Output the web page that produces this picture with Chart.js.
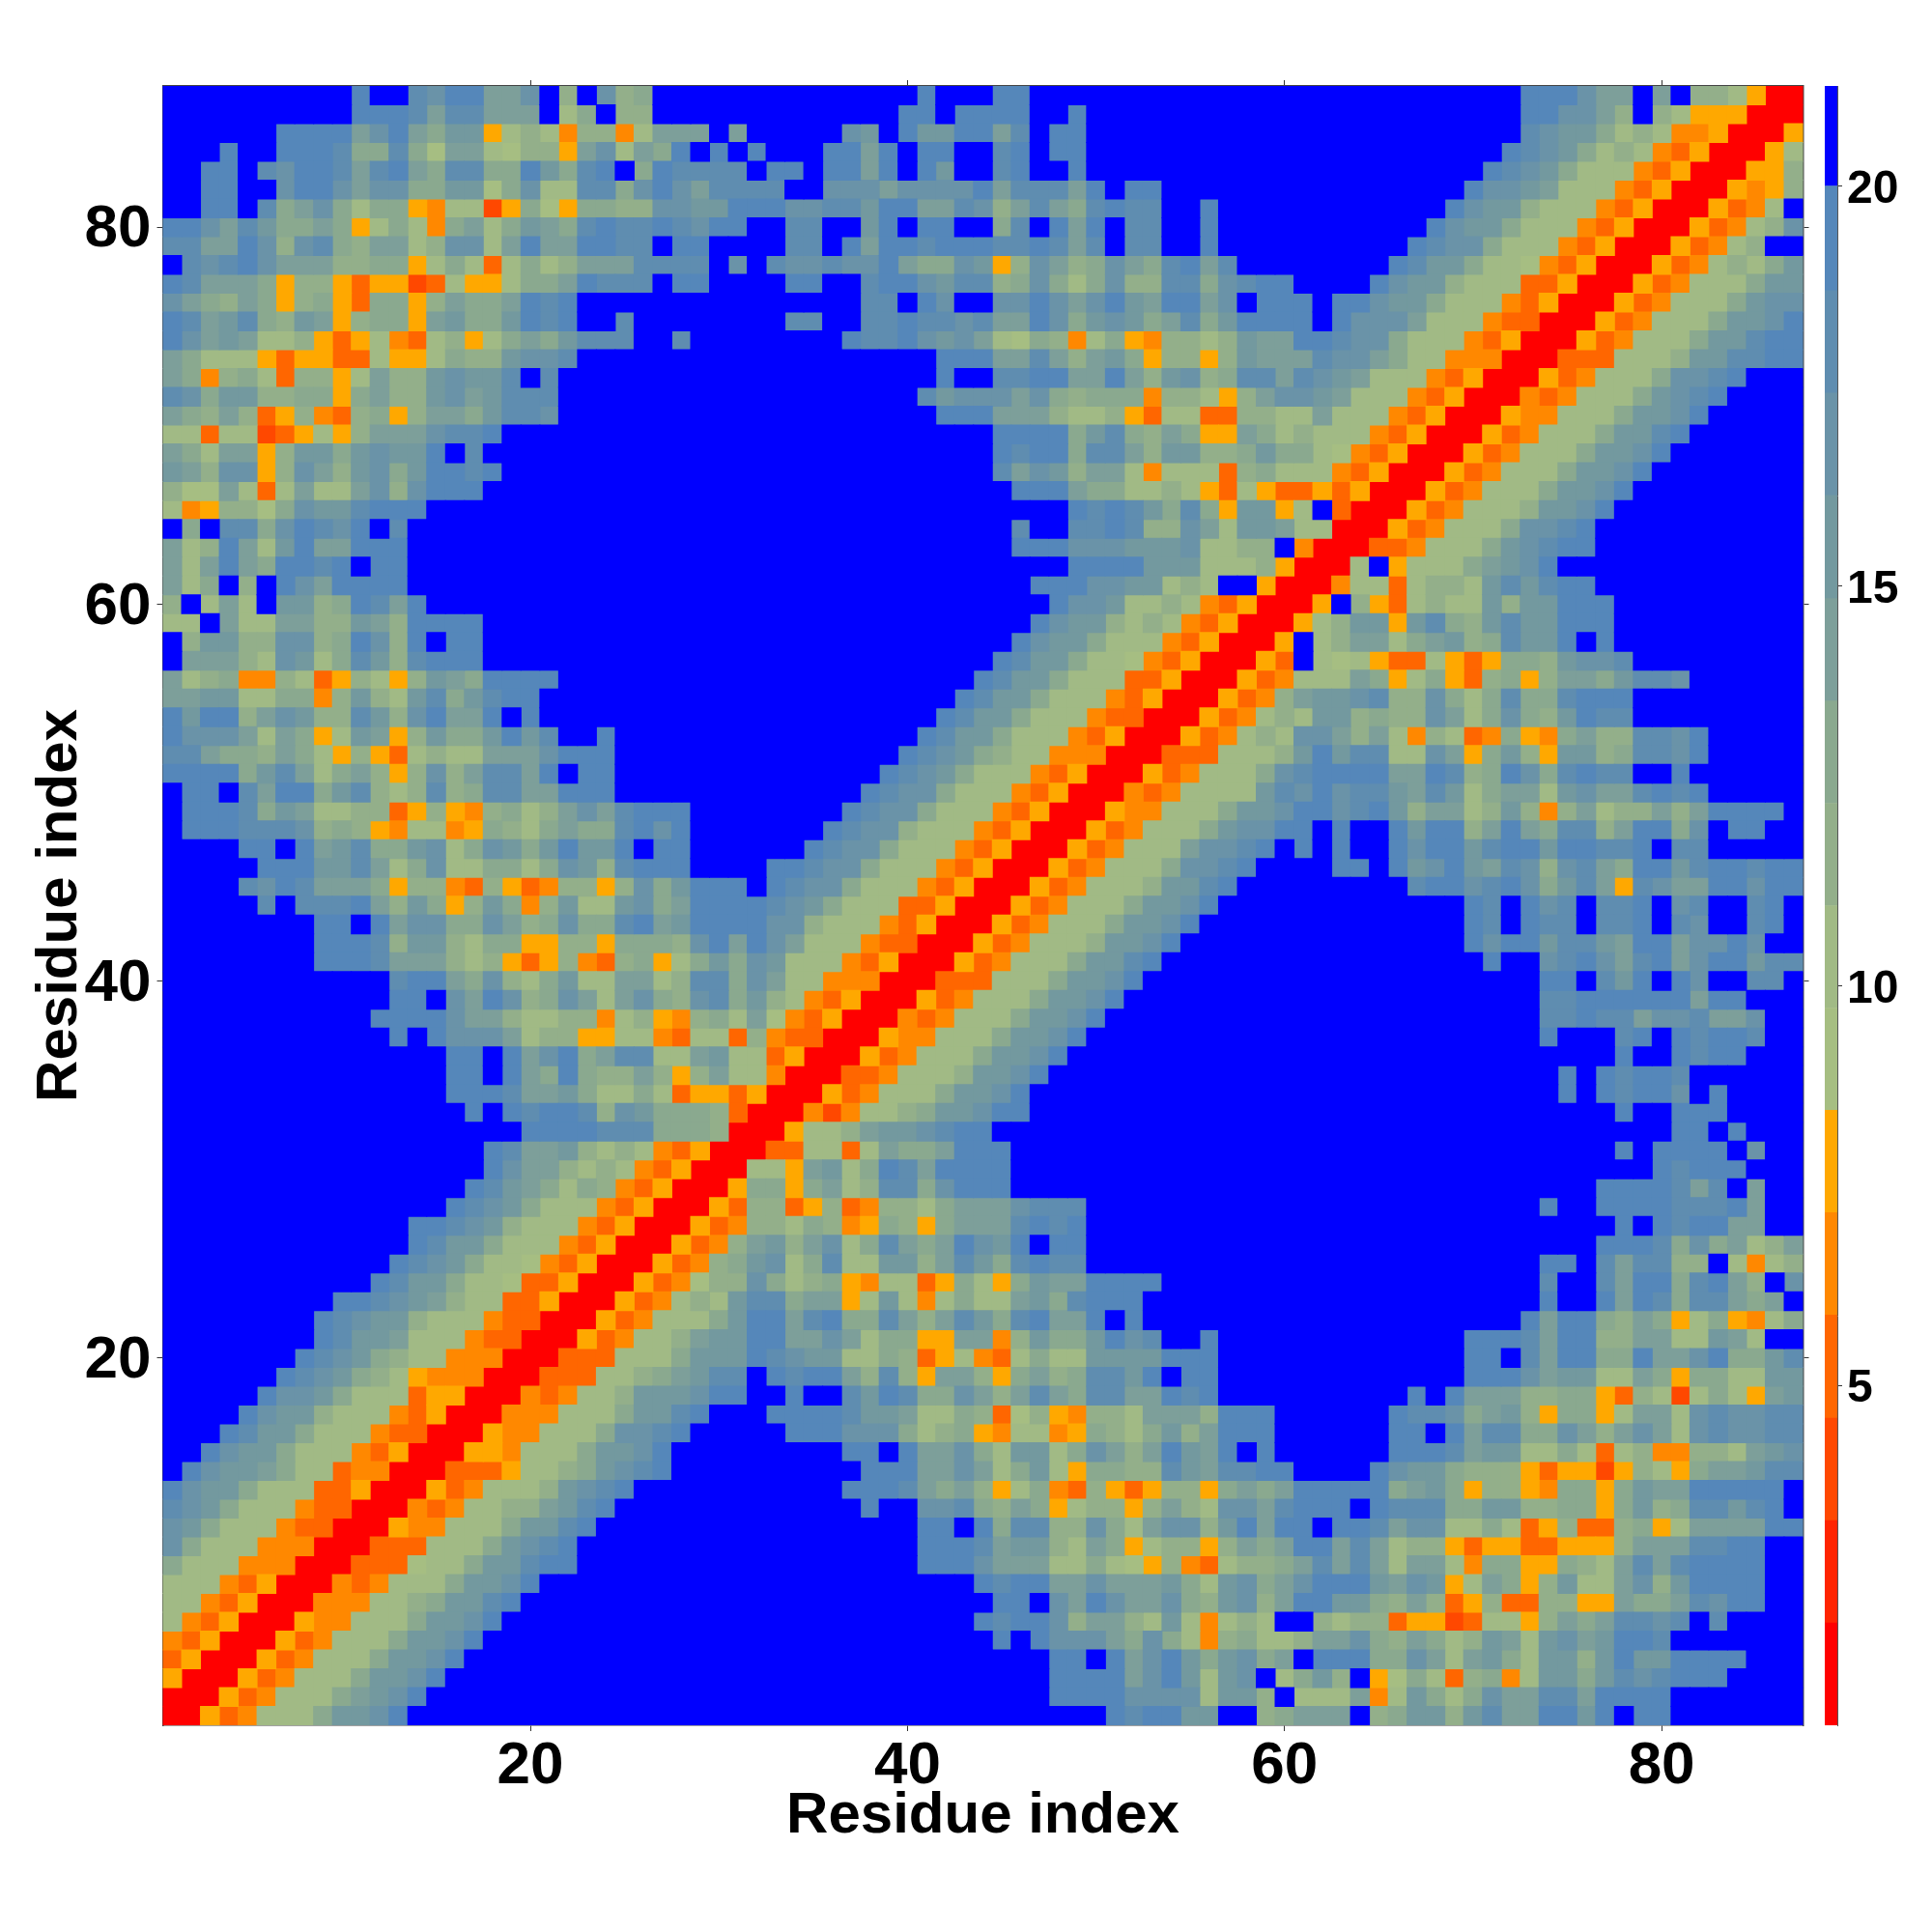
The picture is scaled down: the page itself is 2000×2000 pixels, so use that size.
<!DOCTYPE html>
<html>
<head>
<meta charset="utf-8">
<title>Residue map</title>
<script src="https://cdn.jsdelivr.net/npm/chart.js@4"></script>
<style>
html,body{margin:0;padding:0;background:#fff;width:2000px;height:2000px;overflow:hidden}
canvas{position:absolute;top:0}
#main{left:0}
#bar{left:1889px}
</style>
</head>
<body>
<canvas id="main" width="2000" height="2000" style="width:2000px;height:2000px"></canvas>
<canvas id="bar" width="111" height="2000" style="width:111px;height:2000px"></canvas>
<script>
// colour-class of each cell, one char per cell (0..E, F = top class); [n] = n cells of class F
const gridLeft = [
"[10]EFFDCEEAACF8FC89FFF","[10]EEEDADDAAAF79F88FFF","FFFFFFEEEEACEA9BB578748847AAA","FFFEFFEEED99D96AA76885AC7A9EF","FFEEFDCEEDADEA9DD99EB9DEF9EDD",
"FFEEFFCEECACC99BB69C77DD9CECA","FFEEFD9AC97995477259659988CCB","EECADB99A9579749A79BA9DEDDEDC","DDAAEC8CD98AA78CC7AEAAEEDDFEE","FDCDECAAA8899579737978AAADDDD",
"EDAAA9588535523755799AEDDDFEE","CA98A9589539958A99AEDEFFFFFFF","EDABD98BA58995AB99BEDEFFDFFFF","ECABA77853574378579A9BDDDFFDF","A97775355337557988BCCDFFFFFFF",
"A9489738857A88BCBBDFDFFFFFFFF","DC9BB889959A88BCABDDDFFFFFFFF","A98A8358438958AA9BDDCFFFFFFFF","77377235758AAACDDE[11]","A97AA58BB9BCBBEFD[12]",
"BA8CC58CA8BC9BEEDE[11]","866A737A77AC8CEEE[12]","7458869CBBDEEE[15]","F9FDD9CEDCEFD[16]","A78EA7BEAAEEE[16]",
"A7AEA9EEDEFEE[16]","A79F8FECAEEEE[16]","8F7A7FBB89EDAE[15]","77FA77AA88BA8EEEE[12]","F8BB88CC89EC8EFEE[12]",
"FAAA87CB79DB8DEEE[12]","A7894487358758BA9EEEE[8]","AABB779948B87BD9BDEE[9]","EBEE8ACB88DB8CEAAEFE[9]","ECCCA7A957BA58B99BEBDFFEFFFFF",
"DDA998A9758537877AAACEEE[5]","EEEE9BDA79A858C8ADDAEFEE[5]","FEEFDAEE9BD878D89DDAAEEE[5]","FEEED9BA7788358548978ACADEEEF","FEEEDDDC8985477459879A99DECEF",
"FFFFEEFEABD99BC79CB9BEBBEFEEF","FFFFFEEEBBDA79C779979CB8DEEEF","FFFFDCEDAAA95884385348858C9BE","FFFFFDFDDDEA8B958B948B77BC9AE","[8]EEFEACC99CA89C99DEABE",
"[8]EEED8BB8799558859998C","[8]EEEDAAA87853584389579","[12]DEEA9C879B77AA78D","[12]EEFCAEC89CA7AC98C","[11]EEEECAA87788478548",
"[12]EFECCCA7885577437","[15]EEFEACE9ADD77A","[15]EEFEA9E988A858","[15]EEEDAAB9779735","[16]EFEDEED8CB999",
"[19]EEEEDDD999","[17]EDAAB8787435","[17]ECAA87874350","[16]EDBA979843500","[15]EDCB9777435000",
"[13]EEDCB87774350005","[13]EDBB977743500053","[12]EDCB9776435000534","[11]EDBB97763350005346","[9]EEDCBA87733500053478",
"[8]EDCBB8777433000534777","[8]EDBBA777433000534778A","[7]EDCB98774440003337779B","[6]EDCB98754440003337789AB","[5]ECCB9777355000434778BBBC",
"FFFFECBB87774350004447779BBDE","FFFEDBB97774330005447779CCDEF","FFECBB97774350005547779BBCEFF","FECBBA97734400033357789BCDEFF","ECBB97773350005347778BCDEFFFF",
"DCB97774330004347788ABDE[5]","CB97774330005447779BBDE[6]","C97774440003337779BCDE[7]","97774440003336779BBDEE[7]","7774350004347779BBCE[9]",
"774350004447789BBDE[10]","74350005447779BBCE[11]","4350005347779BBCE[12]","350005347779BBCE[13]","50005347779BBCE[14]",
"0005347779ABCE[15]","005347779BBCE[16]"];
const gridMiddle = [
"[11]EFFFEE[12]","[10]EEFEEEEFFE[9]","FAFFFFFCBFEBBEEADFEE[9]","EFEFFFEEAEFEEFFDEFEE[9]","DDFEEFEEAEFEBFFDEFFE[9]",
"DDDDFFCCCACCCCEADDDAEFEEFFFFF","BEEECCDDBEEAADC8ADA9DEDDFFEFF","EEFFDDFFBEFEEFF9DFEAEFDDFFEFF","FFFFDDFEAEEDEEEDDEDADFDDFFEFF","FCFDCCDCCEA99CB58CA89CA9DEADF",
"FFFFEEFFDEECBDD89C979C88DD9CD","[8]DDFECFFCCECACEBAEEACF","FFFFDDFFDDEDDCDAAEC9BCB9AD9BE","[7]EDDECBCA7698479548878B","[12]EEEAADA8AB958858B",
"[12]EFFDDEEAAEA8BC89D","[11]DBCCCAC98999488758","[12]EEEAAA87785377338","[15]EEEE9BD98A955A","[15]EDEE9DDA8BB889",
"[15]DACB8AA7477738","[16]EEEA997787537","[19]EDEDB9D95B","[16]DFFDDED88CA7B","[16]EEECCCBBBC778",
"[19]EEEEBBB777","[17]EEECCBB787FF","[18]ECCB7787435","[17]ECBB87874350","[16]ECBB977743500",
"[15]EDBB9776435000","[14]EDBB97773350005","[13]EDBB977743500053","[12]EDBB9777433000534","[11]EDBB97774350005347",
"[10]EDCB987744400033377","[9]EDCB9777435000534777","[8]EDCC97774350004347777","[7]EDCC97774350005447779B","[6]EDCC87774350005347779BC",
"[5]EDCC9777435000534777ACCD","FFFEEDCC97774350005347779CCDE","EEFEDCC97774350005347778BBDEF","EEEDCB97773350005347779BBCEFF","EEECC87774350005347779BBCEFFF",
"EAECA7774330005347778BBCEFFFF","B9CB7774350005347779BBDE[5]","D9CA774440003337779BBCE[6]","D9B874350005347779BBCE[7]","97A64350004347779BBCE[8]",
"7384330005447779BBCE[9]","B77350005347779BBCE[10]","A7740003347778BBCE[11]","5350005347779BBCE[12]","830004247789BBCEE[12]",
"80005778ABBCDEE[14]","000337737A99AEEE[13]","00775AB79EDAEEEE[13]","059959A78DD9CEEE[13]","5388358348879AAACDDD[9]",
"3488798459859AAADEDE[9]","48AB8AC79DA9AECBEFEE[9]","89BC79D77BB8ADB9DEDD[9]","88C97895477359759BAAEEEE[5]","7BDD9AA57B747977AB9DEEE[6]",
"9BEEADE99DA8ADB9DEAAEFE[6]","BBEEAACA79955AA48B99BECDFFEFF","BBEDCBB7798357437977BBBBEEEFF","DDFEDEEA8D85AA859A89DDBEFEEFF","EEFFEFFDBED99CA8ADA9DDAAEDEFF",
"FFFEEEEDBBA779836854887AAA8EE","FFFFEEECCC97895477459879B8AEE","[7]EEFEAAC97BB79CA8AEBAEF","[8]EEEAACA79B759988DBADD","[7]EEEDA9A85794385358859A",
"[8]EFFCCD98A9578858A87CC","[11]EEFE9DD88C97ACC8BE","[11]EEEDABB87A9578858A","[11]EEECAAA77976584378","[14]EDEEAACAAAB97BC",
"[15]EEFCAECAAC98BC","[14]EDEEC8AA87B7478","[15]EFECCCA9C97489","[18]EEFEACEB9BC","[18]EEEEACEB7BC",
"[18]EEEECCCC7BB","[21]EDEEBBFF"];
const gridRight = [
"[14]EEECAAFAF887500","[14]EECCA8F87555000","[14]DCBB97874450005","[13]EDCB978743500057","[12]EDCB9777435000558",
"[11]ECCBA7774350005458","[10]ECBB87774350005347F","[9]ECBB977743500053478C","[8]EDCC977743500053478FF","[7]EDBB97764350005347879B",
"EEFFFFECBB87773350005347779BB","EEEFEECBB97774350005347779BCC","EEEFECCCA7774330005347779BBCE","AAEEDCC97774350005347779BBDEE","AAADCCA9774440003337778BBDDEE",
"DADCBA7774350005347779CCDEFFF","ACCBA7774350004347779BCDEFFFF","877A7774350005447779BBCE[5]","9787774350005347779BBDE[6]","B99764350005347779BBCE[7]",
"97774350005347779BBCE[8]","5335350005347779BBCE[9]","B57F30005347778BBCE[10]","BA770005347779CCDE[11]","8F40003347779BCDEE[11]",
"850007F57779ABCE[13]","500047737887BDBDEE[11]","0005F8537877B8BBEEE[10]","00578BB5BD98BDBBEEE[10]","05F78AA79AB89DBBEFE[10]",
"53F7675337535998BCCD[9]","34777A9579538958AA9BDDC[6]","48ABBCD88C979D99DEEE[9]","787BB8988CA79C98BEDD[9]","87CCA8A7487349549A88DDCE[5]",
"78BEBDD77CA59B85BB89DDCE[5]","9CDEEEEAAED89EC9DEDDFFE[6]","BDCECDDBADB79AA7BCAADEDE[5]","BCEECDEB8AA78B848A788A8AEEEEF","CEEFEFFEBEE8AEA9DD8AEE9CFEEFF",
"EFEFEFFECEEBDEEBEEDDEFDDFFFFF","FFFFEEFEBCEBADC8CDA9EEBDEEDEE","[8]DEECDEC9BDA5DCAAEECEE","[11]EDFECDFDDEFCDFFDEF","[11]EDFEDDFDDEFDCFFDEF",
"[11]ECEEBDDBAEEACCECFF","[12]EFFCDECADEACEEBDD","[15]EEFDBEFECFFDDF","[15]DDEEEEEEAEEFFF","[15]DDEDDACCDAACFF",
"[15]EFFFDEFEDEEDFF","[19]EFFEDEEFFF","[16]EFEDEEDFFFFFF","[16]EFEDEECFEFFFF","[19]EFFEEEFFFF",
"[22]EEFEFFF","[19]EFEEEEFCFF","[21]EDEEEFFF","[18]EEEEDADFAFF","[15]EFFEEEEDDDEAFF",
"[19]EFEDEEAAFF","[18]EEED9C9A78A","[15]EEFDADD88F7478","[15]DFFDAEE9DEA8FC","[15]EFFEAED9DDA9AF",
"[14]EAEE98A95795479","[11]EEEDAEE88AA77BA7FF","[11]EEFDAEE99EAACE99BD","[11]EEECABB77A959977BB","[8]EFEAAA8899538727975AB",
"EFFFFFFEDDC9AB859957AA7CDCCDD","EFFFFFFEEFEADD99CA8ACA7CDCCDD","EFFFFFFEEEDABB779737844887ABC","EEFFFFECBB98885355258759AABDD","9AEEEEE9AB9588549959BAAEEEEEF",
"ADEEEFEDDD99BB889959B89DDBDEF","AEEFEEDACC7797358338957AAAAEE","9AEEADA7885355335558AAADDEEFF","89ADADA7AA749955987ADADEEEEFF","9ACEEEBACB57A958B77AC8BEEEEFF",
"8AEEBB98A8358338855A99ADCEEFF","7FF8788355237758A9ADDCDFDFFFF","778AAC98A978BA7BCABEED[7]","9AFEEE99CA7AB97BB8BEBBEEEEFFF","F79B8F569738947BB9BDCDEEEFFFF",
"8F777A47B979CAADDAEEEE[7]","89AAAF89BB8BDAAEEBEFEE[7]"];

const classEdges = [0.75,2.03,3.31,4.59,5.88,7.16,8.44,9.72,11,12.28,13.56,14.84,16.13,17.41,18.69,20,21.25];
const classColors = ["#ff0000","#ff2400","#ff4800","#ff6600","#ff8800","#ffa800","#a6be82","#a1ba85","#93af8a","#8aa98f","#7d9f9a","#73999f","#6a93a8","#5f8db0","#5587ba","#0000ff"];
const axisTicks = [20,40,60,80];
const colorbarTicks = [5,10,15,20];
const axisTitle = "Residue index";

function expand(s){return s.replace(/\[(\d+)\]/g,(m,n)=>"F".repeat(+n));}
const bad=[];
const rows = gridLeft.map((s,i)=>{
  const a=expand(s),b=expand(gridMiddle[i]),c=expand(gridRight[i]);
  if(a.length!==29||b.length!==29||c.length!==29) bad.push((i+1)+":"+a.length+","+b.length+","+c.length);
  return a+b+c;
});
if(bad.length||rows.length!==87) throw new Error("bad rows "+rows.length+" "+bad.join(" "));

const datasets = classColors.map((col,k)=>({
  label:"class "+k,
  data:[],
  pointStyle:"rect",
  pointRadius:14.5,
  pointHoverRadius:14.5,
  pointBorderWidth:0,
  backgroundColor:col,
  borderColor:col,
  showLine:false
}));
rows.forEach((row,r)=>{
  [...row].forEach((ch,c)=>{
    const k=parseInt(ch,16);
    datasets[k].data.push({x:c+1,y:87-r});
  });
});
// blue background cells first so that the other classes sit on top of them
datasets.reverse();

const setTicks = list => scale => { scale.ticks = list.map(v=>({value:v})); };
const tickGrid = {drawOnChartArea:false,drawTicks:true,tickLength:6,tickWidth:1,tickColor:"#333",color:"#333"};
const border = {display:true,color:"#444",width:1.5};
const fontFamily = "'Liberation Sans',Arial,sans-serif";
const xTickFont = {family:fontFamily,weight:"bold",size:62};
const yTickFont = {family:fontFamily,weight:"bold",size:62,lineHeight:6/62};
const titleFont = {family:fontFamily,weight:"bold",size:60};

new Chart(document.getElementById("main"),{
  type:"scatter",
  data:{datasets},
  options:{
    responsive:false,animation:false,devicePixelRatio:1,
    events:[],
    layout:{padding:0},
    plugins:{legend:{display:false},tooltip:{enabled:false},title:{display:false}},
    scales:{
      x:{type:"linear",position:"bottom",min:0.5,max:87.5,
        afterBuildTicks:setTicks(axisTicks),afterFit:s=>{s.height=214;},
        grid:tickGrid,border,
        ticks:{autoSkip:false,maxRotation:0,minRotation:0,color:"#000",font:xTickFont,padding:0},
        title:{display:true,text:axisTitle,color:"#000",font:titleFont,padding:{top:0,bottom:84}}},
      x2:{type:"linear",axis:"x",position:"top",min:0.5,max:87.5,
        afterBuildTicks:setTicks(axisTicks),afterFit:s=>{s.height=89;},
        grid:tickGrid,border,ticks:{display:false}},
      y:{type:"linear",position:"left",min:0.5,max:87.5,
        afterBuildTicks:setTicks(axisTicks),afterFit:s=>{s.width=168.5;},
        grid:tickGrid,border,
        ticks:{autoSkip:false,color:"#000",font:yTickFont,padding:6,callback:v=>["",String(v)]},
        title:{display:true,text:axisTitle,color:"#000",font:titleFont,padding:{top:26,bottom:0}}},
      y2:{type:"linear",axis:"y",position:"right",min:0.5,max:87.5,
        afterBuildTicks:setTicks(axisTicks),afterFit:s=>{s.width=133.5;},
        grid:tickGrid,border,ticks:{display:false}}
    }
  }
});

new Chart(document.getElementById("bar"),{
  type:"bar",
  data:{labels:["palette"],datasets:classColors.map((col,k)=>({
    label:"class "+k,data:[[classEdges[k],classEdges[k+1]]],backgroundColor:col,borderWidth:0,
    barPercentage:1,categoryPercentage:1,grouped:false
  }))},
  options:{
    responsive:false,animation:false,devicePixelRatio:1,events:[],
    layout:{padding:{top:89,bottom:214,left:0,right:0}},
    plugins:{legend:{display:false},tooltip:{enabled:false}},
    scales:{
      x:{display:false,offset:true},
      y:{type:"linear",position:"right",min:0.75,max:21.25,
        afterBuildTicks:setTicks(colorbarTicks),afterFit:s=>{s.width=98;},
        grid:{drawOnChartArea:false,tickLength:5,tickColor:"#333"},
        border:{display:true,color:"#555",width:1},
        ticks:{autoSkip:false,color:"#000",padding:5,callback:v=>["",String(v)],
          font:{family:fontFamily,weight:"bold",size:48,lineHeight:8/48}}}
    }
  }
});
</script>
</body>
</html>
